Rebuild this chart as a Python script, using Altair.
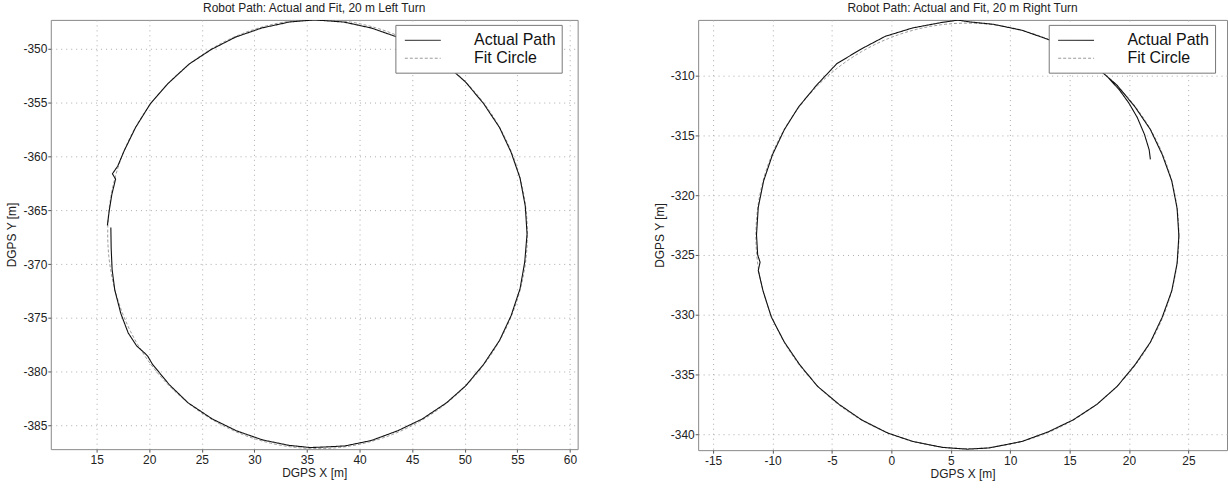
import altair as alt
import numpy as np
import pandas as pd

FONT = "Liberation Sans, Arial, sans-serif"
series_names = ["Actual Path", "Fit Circle"]
series_colors = ["#111111", "#9a9a9a"]
series_dash = [[1, 0], [3, 2]]

# ---------------- Left panel: 20 m left turn ----------------
left_title = "Robot Path: Actual and Fit, 20 m Left Turn"
left_actual_x = [16.35, 16.38, 16.47, 16.72, 17.3, 18.0, 18.8, 19.6, 19.85, 20.3, 21.9, 23.7, 26.0,
                 28.3, 30.8, 33.3, 35.3, 36.7, 38.6, 41.1, 43.6, 45.95, 48.25, 50.1, 51.8, 53.3,
                 54.4, 55.25, 55.7, 55.92, 55.75, 55.25, 54.4, 53.3, 51.8, 50.1, 48.15, 45.95,
                 43.6, 41.1, 38.5, 35.7, 33.3, 30.7, 28.2, 25.9, 23.8, 21.8, 20.1, 18.7, 17.6,
                 17.0, 16.5, 16.8, 16.45, 16.2, 16.02]
left_actual_y = [-366.6, -368.5, -370.5, -372.4, -374.6, -376.4, -377.6, -378.3, -378.55, -379.3,
                 -381.2, -382.9, -384.4, -385.5, -386.35, -386.85, -387.05, -387.0, -386.9,
                 -386.4, -385.5, -384.4, -382.9, -381.3, -379.3, -377.1, -374.8, -372.3,
                 -369.8, -367.2, -364.6, -362.0, -359.6, -357.3, -355.1, -353.1, -351.4,
                 -350.0, -348.9, -348.05, -347.5, -347.3, -347.5, -348.05, -348.9, -350.05,
                 -351.4, -353.2, -355.1, -357.3, -359.5, -360.9, -361.6, -362.1, -363.5,
                 -365.0, -366.4]
left_fit_center = (36.0, -367.2)
left_fit_radius = 19.95
left_x_ticks = [15, 20, 25, 30, 35, 40, 45, 50, 55, 60]
left_y_ticks = [-385, -380, -375, -370, -365, -360, -355, -350]
left_x_domain = [10.64, 60.73]
left_y_domain = [-387.2, -347.3]

# ---------------- Right panel: 20 m right turn ----------------
right_title = "Robot Path: Actual and Fit, 20 m Right Turn"
right_actual_x = [21.8, 21.7, 21.3, 20.7, 20.0, 19.2, 18.2, 16.9, 15.3, 13.3, 11.0, 8.6, 6.6, 5.6,
                  4.2, 1.8, -0.5, -2.6, -4.6, -6.3, -7.8, -9.0, -10.0, -10.75, -11.2, -11.35,
                  -11.25, -11.05, -11.2, -10.8, -10.1, -9.0, -7.7, -6.2, -4.4, -2.5, -0.3, 1.8,
                  4.3, 6.4, 8.2, 11.0, 13.2, 15.3, 17.3, 19.0, 20.5, 21.8, 22.8, 23.6, 24.05,
                  24.2, 24.05, 23.6, 22.8, 21.8, 20.5, 19.0, 17.5]
right_actual_y = [-317.0, -316.2, -314.9, -313.5, -312.3, -311.2, -310.1, -309.0, -308.0, -307.0,
                  -306.2, -305.7, -305.5, -305.35, -305.55, -306.0, -306.7, -307.8, -309.0,
                  -310.8, -312.6, -314.5, -316.6, -318.8, -321.0, -323.3, -325.0, -325.6,
                  -326.3, -328.0, -330.2, -332.3, -334.2, -336.0, -337.5, -338.8, -339.9,
                  -340.6, -341.1, -341.25, -341.15, -340.6, -339.8, -338.8, -337.5, -336.0,
                  -334.2, -332.3, -330.2, -328.0, -325.7, -323.4, -321.1, -318.8, -316.6,
                  -314.5, -312.6, -310.8, -309.5]
right_fit_center = (6.4, -323.4)
right_fit_radius = 17.8
right_x_ticks = [-15, -10, -5, 0, 5, 10, 15, 20, 25]
right_y_ticks = [-340, -335, -330, -325, -320, -315, -310]
right_x_domain = [-16.26, 28.25]
right_y_domain = [-341.33, -305.33]

LABEL_EXPR = "replace(datum.label, '\u2212', '-')"


def panel(ax, ay, center, radius, xdom, ydom, xticks, yticks, title, w, h, lx, ly):
    t = np.linspace(0.0, 2.0 * np.pi, 361)
    fit = pd.DataFrame({
        "x": center[0] + radius * np.cos(t),
        "y": center[1] + radius * np.sin(t),
        "series": "Fit Circle",
        "i": np.arange(len(t)),
    })
    act = pd.DataFrame({"x": ax, "y": ay, "series": "Actual Path", "i": np.arange(len(ax))})

    legend = alt.Legend(
        title=None, orient="none", legendX=lx, legendY=ly,
        fillColor="white", strokeColor="#777777", padding=6,
        labelFont=FONT, labelFontSize=16, labelColor="#111111", labelOffset=42,
        symbolType="M-2,0H2", symbolSize=324, symbolOffset=12, symbolStrokeWidth=1,
        rowPadding=-4,
    )
    x_enc = alt.X("x:Q", scale=alt.Scale(domain=xdom, nice=False, zero=False),
                  axis=alt.Axis(values=xticks, title="DGPS X [m]", labelExpr=LABEL_EXPR))
    y_enc = alt.Y("y:Q", scale=alt.Scale(domain=ydom, nice=False, zero=False),
                  axis=alt.Axis(values=yticks, title="DGPS Y [m]", labelExpr=LABEL_EXPR))
    color = alt.Color("series:N", scale=alt.Scale(domain=series_names, range=series_colors), legend=legend)
    dash = alt.StrokeDash("series:N", scale=alt.Scale(domain=series_names, range=series_dash), legend=legend)

    fit_layer = alt.Chart(fit).mark_line(strokeWidth=1, clip=True).encode(
        x=x_enc, y=y_enc, color=color, strokeDash=dash, order="i:Q")
    act_layer = alt.Chart(act).mark_line(strokeWidth=1.1, clip=True).encode(
        x=x_enc, y=y_enc, color=color, strokeDash=dash, order="i:Q")
    return alt.layer(fit_layer, act_layer).properties(
        width=w, height=h,
        title=alt.TitleParams(title, font=FONT, fontSize=12, fontWeight="normal", color="#222222", offset=5),
    )


left = panel(left_actual_x, left_actual_y, left_fit_center, left_fit_radius, left_x_domain, left_y_domain,
             left_x_ticks, left_y_ticks, left_title, 529, 431, 346, 5)
right = panel(right_actual_x, right_actual_y, right_fit_center, right_fit_radius, right_x_domain,
              right_y_domain, right_x_ticks, right_y_ticks, right_title, 531, 432, 352, 5)

chart = alt.hconcat(left, right, spacing=74).resolve_scale(
    color="independent", strokeDash="independent"
).resolve_legend(color="independent", strokeDash="independent").properties(
    padding={"left": 5, "top": 0, "right": 0, "bottom": 0},
    background="white",
).configure_view(stroke="#888888", strokeWidth=1).configure_axis(
    domain=False, grid=True, gridColor="#aaaaaa", gridDash=[1, 4], gridWidth=1,
    tickColor="#555555", tickSize=3, labelFont=FONT, labelFontSize=12, labelColor="#222222",
    titleFont=FONT, titleFontSize=12, titleFontWeight="normal", titleColor="#222222",
).configure_axisX(labelPadding=2, titlePadding=2).configure_axisY(labelPadding=1, titlePadding=4)

chart.save("out.html", embed_options={"renderer": "svg", "actions": False})
